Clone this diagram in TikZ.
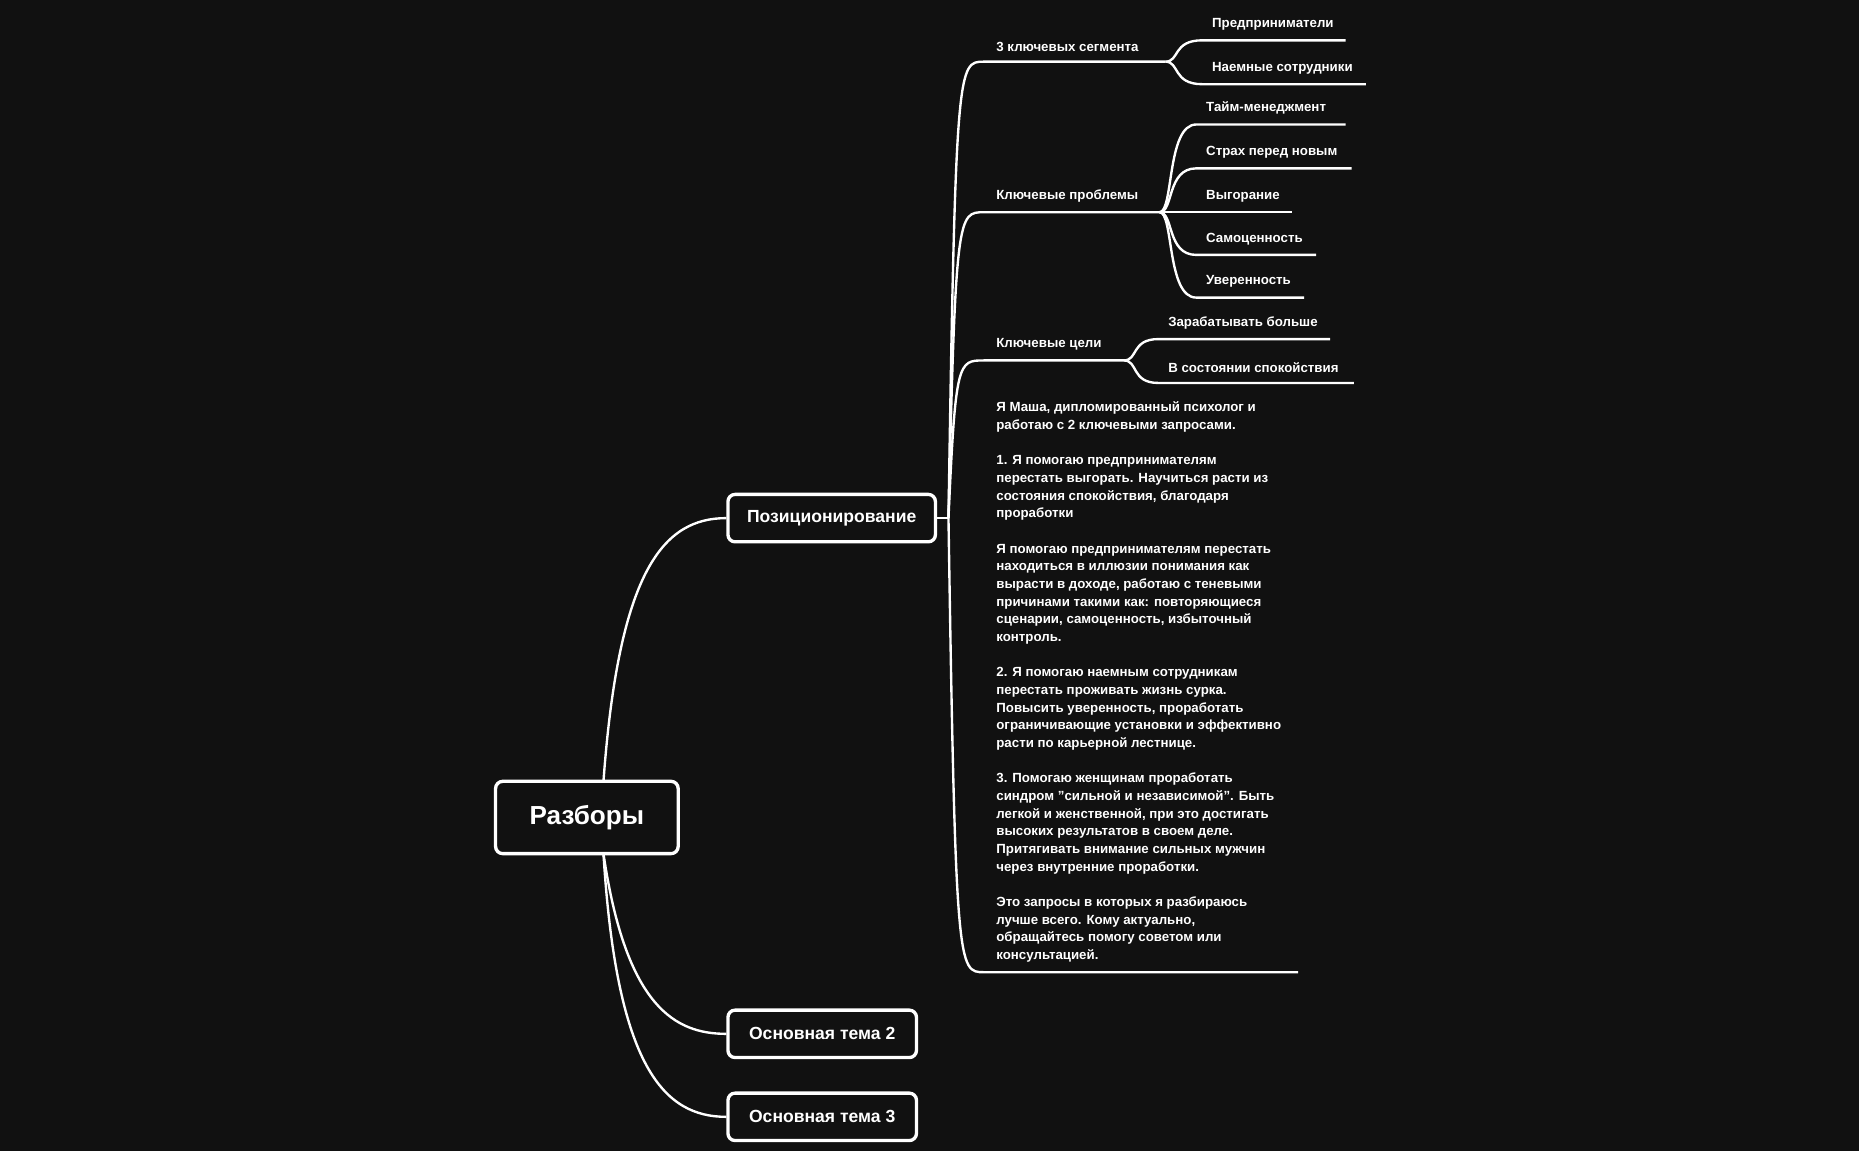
\documentclass[tikz,border=0pt]{standalone}
\usepackage{fontspec}
\setmainfont{Liberation Sans}
\begin{document}
\begin{tikzpicture}[x=0.5pt,y=-0.5pt,
  ln/.style={draw=white,line width=1pt},
  box/.style={draw=white,line width=1.4pt,rounded corners=3pt,fill=bg,text=white,font=\bfseries},
  lbl/.style={anchor=south west,align=left,text=white,font=\bfseries\fontsize{5.6pt}{7.45pt}\selectfont,inner xsep=1pt,inner ysep=4pt}]
\definecolor{bg}{HTML}{111111}
\fill[bg] (0,0) rectangle (1568,971);
\useasboundingbox (0,0) rectangle (1568,971);
% main boxes
\node[box,minimum width=77pt,minimum height=30.5pt,font=\bfseries\fontsize{11pt}{13pt}\selectfont] (root) at (495,689.5) {Разборы};
\node[box,minimum width=87.5pt,minimum height=20pt,font=\bfseries\fontsize{7.4pt}{9pt}\selectfont] (pos) at (701.5,437) {Позиционирование};
\node[box,minimum width=79.5pt,minimum height=20pt,font=\bfseries\fontsize{7.4pt}{9pt}\selectfont] (t2) at (693.5,872) {Основная тема 2};
\node[box,minimum width=79.5pt,minimum height=20pt,font=\bfseries\fontsize{7.4pt}{9pt}\selectfont] (t3) at (693.5,942) {Основная тема 3};
\coordinate (rt) at (509,659); \coordinate (rb) at (509,720);
\draw[ln] (rt) .. controls (522,480) and (560,437) .. (pos.west);
\draw[ln] (rb) .. controls (528,850) and (570,872) .. (t2.west);
\draw[ln] (rb) .. controls (520,900) and (560,942) .. (t3.west);
% level 2
\coordinate (pb) at (800,437);
\draw[ln] (pos.east) -- (pb);
\newcommand\brA[4]{% y, xend, name, text
  \node[lbl] (#3) at (838,#1) {#4};
  \draw[ln] (pb) .. controls (806,#1) and (808,#1) .. (830,#1) -- (#2,#1);}
\brA{52}{983}{seg}{3 ключевых сегмента}
\brA{179}{978}{prob}{Ключевые проблемы}
\brA{304}{948}{goal}{Ключевые цели}
\brA{820}{1095}{blk}{Я Маша, дипломированный психолог и\\работаю с 2 ключевыми запросами.\\\mbox{}\\1. Я помогаю предпринимателям\\перестать выгорать. Научиться расти из\\состояния спокойствия, благодаря\\проработки\\\mbox{}\\Я помогаю предпринимателям перестать\\находиться в иллюзии понимания как\\вырасти в доходе, работаю с теневыми\\причинами такими как: повторяющиеся\\сценарии, самоценность, избыточный\\контроль.\\\mbox{}\\2. Я помогаю наемным сотрудникам\\перестать проживать жизнь сурка.\\Повысить уверенность, проработать\\ограничивающие установки и эффективно\\расти по карьерной лестнице.\\\mbox{}\\3. Помогаю женщинам проработать\\синдром "сильной и независимой". Быть\\легкой и женственной, при это достигать\\высоких результатов в своем деле.\\Притягивать внимание сильных мужчин\\через внутренние проработки.\\\mbox{}\\Это запросы в которых я разбираюсь\\лучше всего. Кому актуально,\\обращайтесь помогу советом или\\консультацией.}
% level 3
\newcommand\brB[6]{% bx, by, y, xstart, xend, text
  \node[lbl] at (#4+10,#3) {#6};
  \draw[ln] (#1,#2) .. controls (#1+12,#2) and (#1+6,#3) .. (#4+4,#3) -- (#5,#3);}
\brB{983}{52}{34}{1010}{1135}{Предприниматели}
\brB{983}{52}{71}{1010}{1152}{Наемные сотрудники}
\brB{978}{179}{105}{1005}{1135}{Тайм-менеджмент}
\brB{978}{179}{142}{1005}{1140}{Страх перед новым}
\brB{978}{179}{179}{1005}{1090}{Выгорание}
\brB{978}{179}{215}{1005}{1110}{Самоценность}
\brB{978}{179}{251}{1005}{1100}{Уверенность}
\brB{948}{304}{286}{973}{1122}{Зарабатывать больше}
\brB{948}{304}{323}{973}{1142}{В состоянии спокойствия}
\end{tikzpicture}
\end{document}
